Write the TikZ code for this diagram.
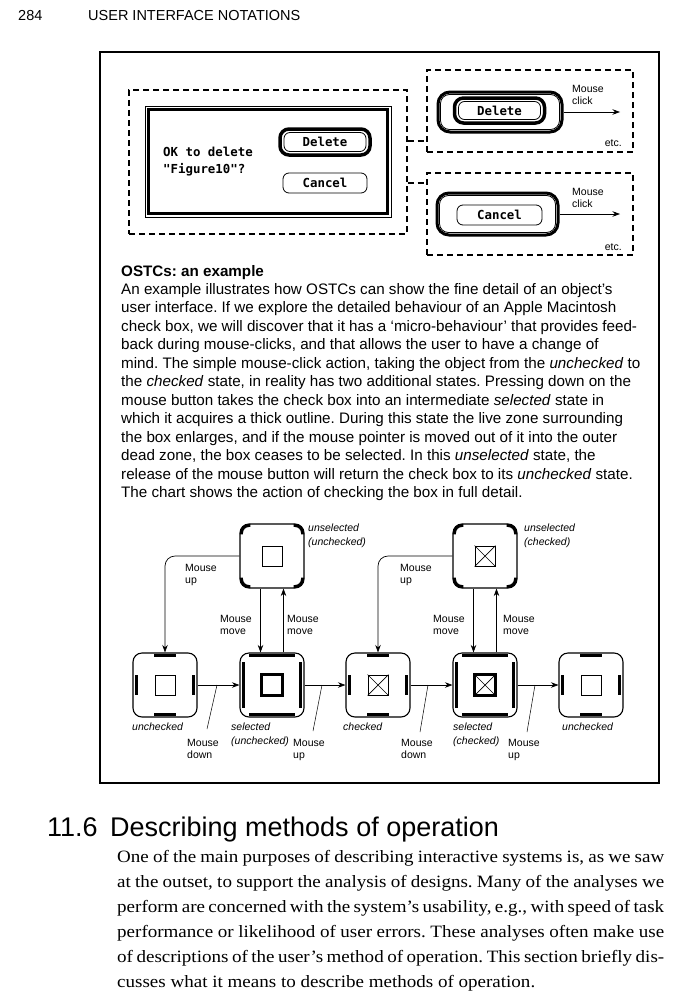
\documentclass[tikz,border=0pt]{standalone}
\usepackage{fontspec}
\setmainfont{Liberation Sans}
\setmonofont{DejaVu Sans Mono}
\newfontfamily\serifbody{Liberation Serif}[FakeStretch=1.1]
\usetikzlibrary{arrows.meta}
\frenchspacing
\newcommand\fs[2]{\fontsize{#1}{#2}\selectfont}
\newcommand\cornerarcs[1]{%
 \begin{scope}
 \clip ([shift={(-2pt,2pt)}]#1.north west) rectangle ([shift={(11pt,-11pt)}]#1.north west)
       ([shift={(2pt,2pt)}]#1.north east) rectangle ([shift={(-11pt,-11pt)}]#1.north east)
       ([shift={(-2pt,-2pt)}]#1.south west) rectangle ([shift={(11pt,11pt)}]#1.south west)
       ([shift={(2pt,-2pt)}]#1.south east) rectangle ([shift={(-11pt,11pt)}]#1.south east);
 \draw[line width=3pt,rounded corners=7.5pt] ([shift={(2pt,-2pt)}]#1.north west) rectangle ([shift={(-2pt,2pt)}]#1.south east);
 \end{scope}}
\newcommand\statebars[3]{% name, half length horiz, half length vert
 \draw[bar] ([shift={(-#2pt,-3pt)}]#1.north) -- ([shift={(#2pt,-3pt)}]#1.north);
 \draw[bar] ([shift={(-#2pt,3pt)}]#1.south) -- ([shift={(#2pt,3pt)}]#1.south);
 \draw[bar] ([shift={(4pt,#3pt)}]#1.west) -- ([shift={(4pt,-#3pt)}]#1.west);
 \draw[bar] ([shift={(-4pt,#3pt)}]#1.east) -- ([shift={(-4pt,-#3pt)}]#1.east);}
\newcommand\crossbox[1]{%
 \draw[line width=0.7pt] (#1.north west) -- (#1.south east) (#1.north east) -- (#1.south west);}
\begin{document}
\begin{tikzpicture}[x=1pt,y=-1pt,
 dashbox/.style={draw,line width=1.2pt,dash pattern=on 6pt off 4pt,inner sep=0},
 dline/.style={line width=1.2pt,dash pattern=on 6pt off 4pt},
 arr/.style={line width=0.7pt,-{Stealth[length=7.5pt,width=5.5pt]}},
 lead/.style={line width=0.5pt},
 stbox/.style={draw,line width=1.1pt,rounded corners=9pt,minimum width=64pt,minimum height=64pt,inner sep=0},
 chk/.style={draw,line width=0.8pt,minimum width=20pt,minimum height=20pt,inner sep=0},
 chkthick/.style={draw,line width=2.6pt,minimum width=21pt,minimum height=21pt,inner sep=0},
 bar/.style={line width=3pt},
 lab/.style={font=\fs{10.5}{12.5},align=left,inner sep=0,anchor=north west},
 ilab/.style={font=\fs{10.5}{13.5}\itshape,align=left,inner sep=0,anchor=north west},
 para/.style={font=\fs{15.2}{18},inner sep=0,anchor=base west},
 body/.style={font=\serifbody\fs{17.3}{20},inner sep=0,anchor=base west},
 btn/.style={draw,line width=0.8pt,rounded corners=6pt,inner sep=0,font=\ttfamily\bfseries\fs{12.4}{14}},
 ring/.style={draw,line width=3.5pt,rounded corners=9pt,inner sep=0},
 chic/.style={font=\ttfamily\bfseries\fs{12.4}{14},inner sep=0,anchor=base west},
]
\fill[white] (0,0) rectangle (700,998);
\useasboundingbox (0,0) rectangle (700,998);

% page header
\node[anchor=base west,inner sep=0,font=\fs{14.5}{17}] (pnum) at (18,21) {284};
\node[anchor=base west,inner sep=0,font=\fs{14.5}{17}] (phead) at (88,21) {USER INTERFACE NOTATIONS};

% frame
\node[draw,line width=1.2pt,minimum width=559pt,minimum height=731pt,inner sep=0] (frame) at (379.5,417.5) {};

% ---- dialog ----
\node[dashbox,minimum width=278pt,minimum height=144pt] (dlg) at (268,162) {};
\node[draw,line width=0.8pt,minimum width=246pt,minimum height=111pt,inner sep=0] (win) at (268,161.5) {};
\draw[line width=2.5pt] ([shift={(4pt,-4pt)}]win.north west) rectangle ([shift={(-4pt,4pt)}]win.south east);
\node[chic] (msg1) at (163,156) {OK to delete};
\node[chic] (msg2) at (163,173) {"Figure10"?};
\node[ring,minimum width=90pt,minimum height=26pt] (dring) at (325,142) {};
\node[btn,minimum width=82pt,minimum height=19pt] (ddel) at (325,142) {Delete};
\node[btn,minimum width=84pt,minimum height=20pt] (dcan) at (325,183) {Cancel};

% ---- right boxes ----
\node[dashbox,minimum width=206pt,minimum height=82pt] (rb1) at (530,111) {};
\node[dashbox,minimum width=206pt,minimum height=82pt] (rb2) at (530,214) {};
\coordinate (cy1) at (0,141);
\coordinate (cy2) at (0,183);
\draw[dline] (dlg.east |- cy1) -- (rb1.west |- cy1);
\draw[dline] (dlg.east |- cy2) -- (rb2.west |- cy2);

\node[draw,line width=3pt,rounded corners=12pt,minimum width=124pt,minimum height=40pt,inner sep=0] (ob1) at (500,112) {};
\draw[line width=0.8pt,rounded corners=9pt] ([shift={(4pt,-4pt)}]ob1.north west) rectangle ([shift={(-4pt,4pt)}]ob1.south east);
\node[ring,minimum width=90pt,minimum height=25pt] (ir1) at (499.5,110.5) {};
\node[btn,minimum width=82pt,minimum height=18pt] (rdel) at (499.5,110.5) {Delete};
\coordinate (e1) at (620,112);
\draw[arr] (ob1.east) -- (e1);
\node[lab] (mc1) at (572,85) {Mouse\\click};
\node[anchor=base east,inner sep=0,font=\fs{10.5}{12}] (etc1) at (622,146) {etc.};

\node[draw,line width=3pt,rounded corners=12pt,minimum width=121pt,minimum height=42pt,inner sep=0] (ob2) at (497.5,214) {};
\draw[line width=0.8pt,rounded corners=9pt] ([shift={(4pt,-4pt)}]ob2.north west) rectangle ([shift={(-4pt,4pt)}]ob2.south east);
\node[btn,minimum width=85pt,minimum height=20pt] (rcan) at (499.5,215) {Cancel};
\coordinate (e2) at (620,214);
\draw[arr] (ob2.east) -- (e2);
\node[lab] (mc2) at (572,188) {Mouse\\click};
\node[anchor=base east,inner sep=0,font=\fs{10.5}{12}] (etc2) at (622,250) {etc.};

% ---- text ----
\node[para,font=\fs{15.2}{18}\bfseries] (ptitle) at (121,276) {OSTCs: an example};
\node[para] (p1) at (121,294) {An example illustrates how OSTCs can show the fine detail of an object's};
\node[para] (p2) at (121,312.5) {user interface. If we explore the detailed behaviour of an Apple Macintosh};
\node[para] (p3) at (121,331) {check box, we will discover that it has a ‘micro-behaviour’ that provides feed-};
\node[para] (p4) at (121,349.5) {back during mouse-clicks, and that allows the user to have a change of};
\node[para] (p5) at (121,368) {mind. The simple mouse-click action, taking the object from the \textit{unchecked} to};
\node[para] (p6) at (121,386.5) {the \textit{checked} state, in reality has two additional states. Pressing down on the};
\node[para] (p7) at (121,405) {mouse button takes the check box into an intermediate \textit{selected} state in};
\node[para] (p8) at (121,423.5) {which it acquires a thick outline. During this state the live zone surrounding};
\node[para] (p9) at (121,442) {the box enlarges, and if the mouse pointer is moved out of it into the outer};
\node[para] (p10) at (121,460.5) {dead zone, the box ceases to be selected. In this \textit{unselected} state, the};
\node[para] (p11) at (121,479) {release of the mouse button will return the check box to its \textit{unchecked} state.};
\node[para] (p12) at (121,497.5) {The chart shows the action of checking the box in full detail.};

% ---- state chart ----
\node[stbox] (t1) at (272,556) {};
\node[stbox] (t2) at (485,556) {};
\node[stbox] (b1) at (165,685) {};
\node[stbox] (b2) at (272,685) {};
\node[stbox] (b3) at (378,685) {};
\node[stbox] (b4) at (485,685) {};
\node[stbox] (b5) at (591,685) {};
\cornerarcs{t1}
\cornerarcs{t2}
\statebars{b1}{11}{10}
\statebars{b2}{23}{23}
\statebars{b3}{11}{10}
\statebars{b4}{23}{23}
\statebars{b5}{11}{10}
\node[chk] (t1c) at (t1.center) {};
\node[chk] (t2c) at (t2.center) {};
\crossbox{t2c}
\node[chk] (b1c) at (b1.center) {};
\node[chkthick] (b2c) at (b2.center) {};
\node[chk] (b3c) at (b3.center) {};
\crossbox{b3c}
\node[chkthick] (b4c) at (b4.center) {};
\draw[line width=0.7pt] ([shift={(1.3pt,-1.3pt)}]b4c.north west) -- ([shift={(-1.3pt,1.3pt)}]b4c.south east)
  ([shift={(-1.3pt,-1.3pt)}]b4c.north east) -- ([shift={(1.3pt,1.3pt)}]b4c.south west);
\node[chk] (b5c) at (b5.center) {};

\draw[arr] (b1) -- (b2);
\draw[arr] (b2) -- (b3);
\draw[arr] (b3) -- (b4);
\draw[arr] (b4) -- (b5);
\draw[arr,rounded corners=10pt] (t1.west) -| (b1.north);
\draw[arr,rounded corners=10pt] (t2.west) -| (b3.north);
\draw[arr] ([xshift=-11.5pt]t1.south) -- ([xshift=-11.5pt]b2.north);
\draw[arr] ([xshift=11.5pt]b2.north) -- ([xshift=11.5pt]t1.south);
\draw[arr] ([xshift=-11.5pt]t2.south) -- ([xshift=-11.5pt]b4.north);
\draw[arr] ([xshift=11.5pt]b4.north) -- ([xshift=11.5pt]t2.south);

\coordinate (la1) at (217,685); \coordinate (lb1) at (207,729);
\coordinate (la2) at (322,685); \coordinate (lb2) at (313,731);
\coordinate (la3) at (428,685); \coordinate (lb3) at (420,732);
\coordinate (la4) at (535,685); \coordinate (lb4) at (527,732);
\draw[lead] (la1) -- (lb1);
\draw[lead] (la2) -- (lb2);
\draw[lead] (la3) -- (lb3);
\draw[lead] (la4) -- (lb4);

\node[lab] (lmu1) at (185,564) {Mouse\\up};
\node[lab] (lmu2) at (400,564) {Mouse\\up};
\node[lab] (lmm1) at (220,615) {Mouse\\move};
\node[lab] (lmm2) at (287,615) {Mouse\\move};
\node[lab] (lmm3) at (433,615) {Mouse\\move};
\node[lab] (lmm4) at (503,615) {Mouse\\move};
\node[lab] (lmd1) at (187,739) {Mouse\\down};
\node[lab] (lmu3) at (293,739) {Mouse\\up};
\node[lab] (lmd2) at (401,739) {Mouse\\down};
\node[lab] (lmu4) at (508,739) {Mouse\\up};

\node[ilab] (s1) at (308,524) {unselected\\(unchecked)};
\node[ilab] (s2) at (524,524) {unselected\\(checked)};
\node[ilab] (s3) at (132,723) {unchecked};
\node[ilab] (s4) at (231,723) {selected\\(unchecked)};
\node[ilab] (s5) at (343,723) {checked};
\node[ilab] (s6) at (453,723) {selected\\(checked)};
\node[ilab] (s7) at (562,723) {unchecked};

% ---- section ----
\node[anchor=base west,inner sep=0,font=\fs{27}{30}] (secnum) at (47,836) {11.6};
\node[anchor=base west,inner sep=0,font=\fs{27}{30}] (sectitle) at (110,836) {Describing methods of operation};
\node[body] (bl1) at (117,862) {\makebox[547pt][s]{One of the main purposes of describing interactive systems is, as we saw}};
\node[body] (bl2) at (117,887) {\makebox[547pt][s]{at the outset, to support the analysis of designs. Many of the analyses we}};
\node[body] (bl3) at (117,912) {\makebox[547pt][s]{perform are concerned with the system’s usability, e.g., with speed of task}};
\node[body] (bl4) at (117,937) {\makebox[547pt][s]{performance or likelihood of user errors. These analyses often make use}};
\node[body] (bl5) at (117,962) {\makebox[547pt][s]{of descriptions of the user’s method of operation. This section briefly dis-}};
\node[body] (bl6) at (117,987) {cusses what it means to describe methods of operation.};
\end{tikzpicture}
\end{document}
